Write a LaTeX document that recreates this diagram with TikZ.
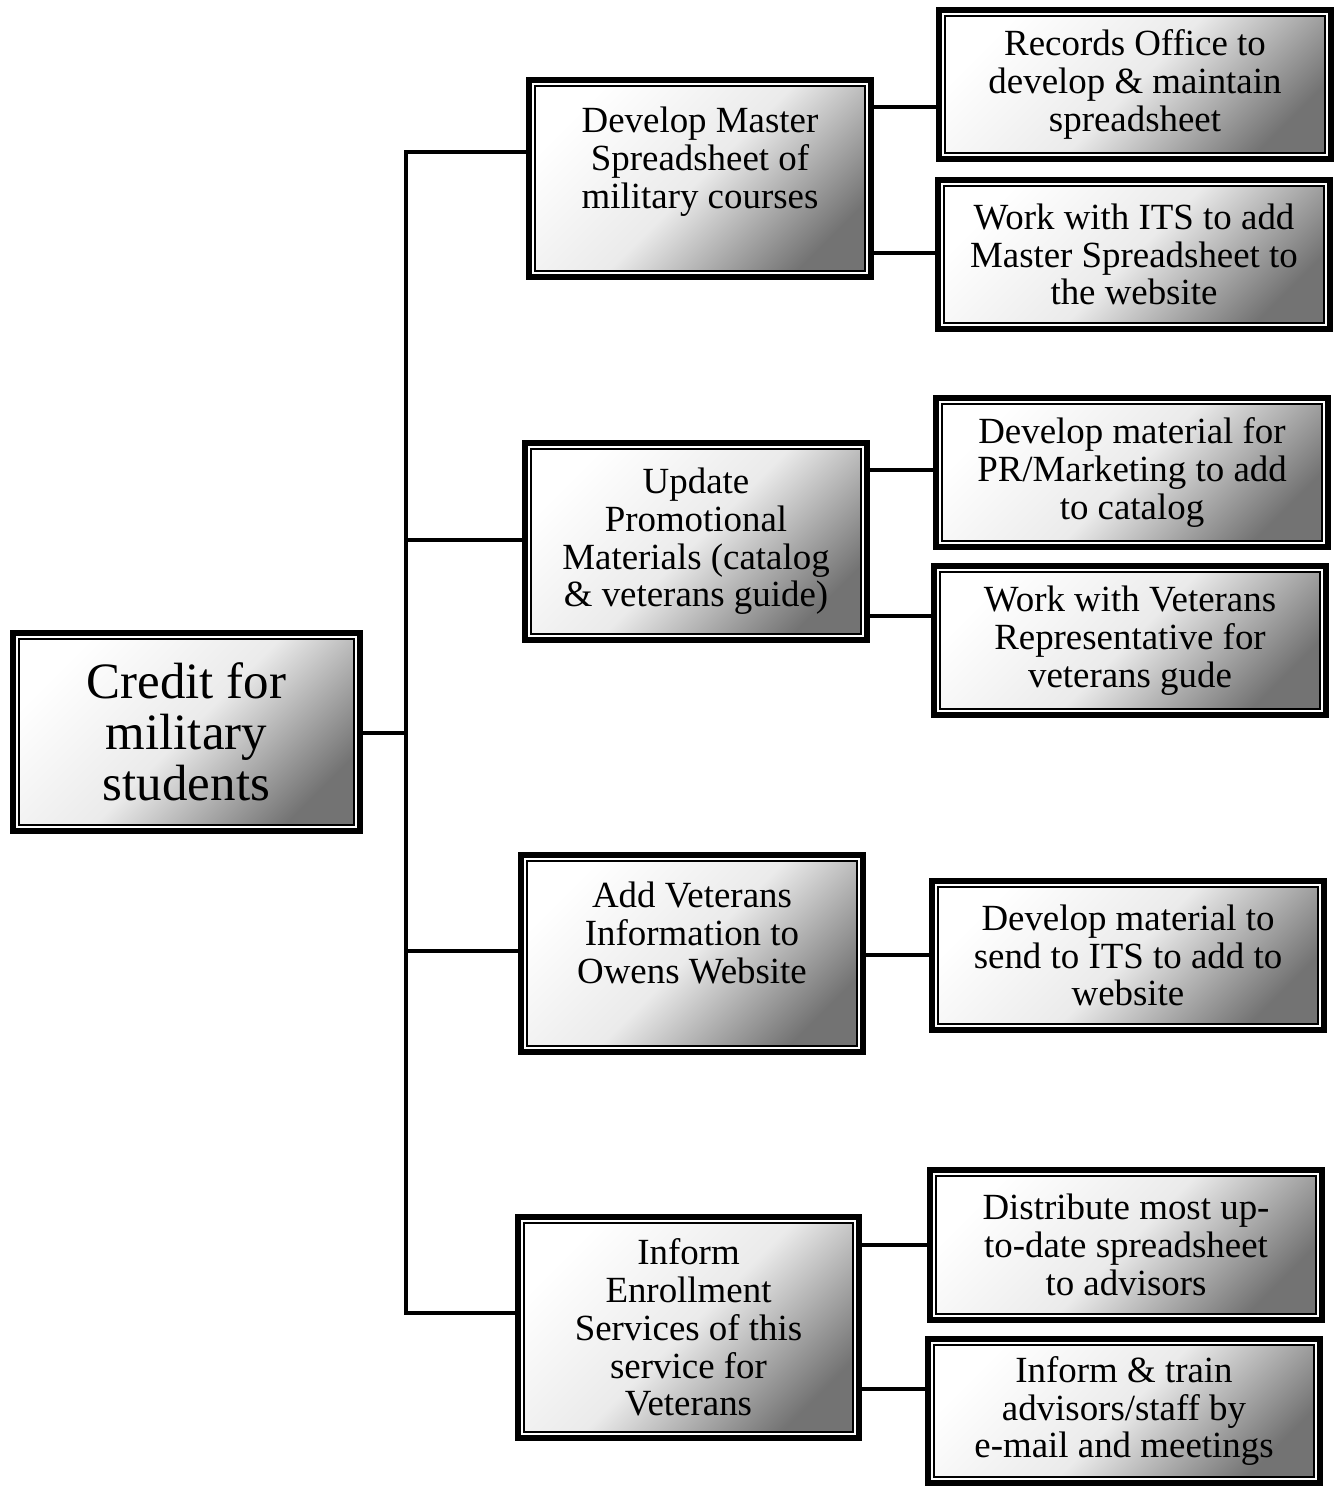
\documentclass[tikz,border=0pt]{standalone}
\usepackage{fontspec}
\setmainfont{Liberation Serif}
\begin{document}
\begin{tikzpicture}[x=0.02cm,y=-0.02cm,
  box/.style={draw=black, line width=3.4pt, top color=white, bottom color=black!55, middle color=black!8, shading angle=45,
    align=center, inner sep=0pt, font=\fontsize{21}{21.5}\selectfont,
    path picture={
      \draw[white,line width=1.2pt] ([shift={(2.3pt,2.3pt)}]path picture bounding box.south west) rectangle ([shift={(-2.3pt,-2.3pt)}]path picture bounding box.north east);
      \draw[black,line width=0.9pt] ([shift={(3.4pt,3.4pt)}]path picture bounding box.south west) rectangle ([shift={(-3.4pt,-3.4pt)}]path picture bounding box.north east);
    }},
  lvone/.style={box, minimum width=6.84cm, minimum height=3.94cm},
  lvtwo/.style={box, minimum width=7.84cm, minimum height=2.98cm},
  conn/.style={draw=black, line width=2.3pt}]
\useasboundingbox (0,0) rectangle (1341,1489);

\node[box, minimum width=6.94cm, minimum height=3.96cm, font=\fontsize{29}{29}\selectfont] (root) at (186.5,732) {Credit for\\military\\students};

\node[lvone] (A) at (700,178.5) {Develop Master\\Spreadsheet of\\military courses\\[2pt] \mbox{}};
\node[lvone] (B) at (696,541.5) {Update\\Promotional\\Materials (catalog\\\& veterans guide)};
\node[lvone] (C) at (692,953.5) {Add Veterans\\Information to\\Owens Website\\[2pt] \mbox{}};
\node[lvone, minimum width=6.82cm, minimum height=4.42cm] (D) at (688.5,1327.5) {Inform\\Enrollment\\Services of this\\service for\\Veterans};

\node[lvtwo] (A1) at (1135,84.5) {Records Office to\\develop \& maintain\\spreadsheet};
\node[lvtwo] (A2) at (1134,254.5) {Work with ITS to add\\Master Spreadsheet to\\the website};
\node[lvtwo] (B1) at (1132,472.5) {Develop material for\\PR/Marketing to add\\to catalog};
\node[lvtwo] (B2) at (1130,640.5) {Work with Veterans\\Representative for\\veterans gude};
\node[lvtwo] (C1) at (1128,955.5) {Develop material to\\send to ITS to add to\\website};
\node[lvtwo, minimum height=3.0cm] (D1) at (1126,1245) {Distribute most up-\\to-date spreadsheet\\to advisors};
\node[lvtwo, minimum height=2.88cm] (D2) at (1124,1411) {Inform \& train\\advisors/staff by\\e-mail and meetings};

% trunk
\coordinate (ta) at (406,152);
\coordinate (tb) at (406,540);
\coordinate (tr) at (406,733);
\coordinate (tc) at (406,951);
\coordinate (td) at (406,1313);
\draw[conn] (ta -| A.west) -- (ta) -- (td) -- (td -| D.west);
\draw[conn] (tb) -- (tb -| B.west);
\draw[conn] (tc) -- (tc -| C.west);
\draw[conn] (tr -| root.east) -- (tr);

% second level
\coordinate (a1) at (900,107);
\coordinate (a2) at (900,253);
\coordinate (b1) at (900,470);
\coordinate (b2) at (900,616);
\coordinate (c1) at (900,955);
\coordinate (d1) at (900,1245);
\coordinate (d2) at (900,1389);
\draw[conn] (a1 -| A.east) -- (a1 -| A1.west);
\draw[conn] (a2 -| A.east) -- (a2 -| A2.west);
\draw[conn] (b1 -| B.east) -- (b1 -| B1.west);
\draw[conn] (b2 -| B.east) -- (b2 -| B2.west);
\draw[conn] (c1 -| C.east) -- (c1 -| C1.west);
\draw[conn] (d1 -| D.east) -- (d1 -| D1.west);
\draw[conn] (d2 -| D.east) -- (d2 -| D2.west);
\end{tikzpicture}
\end{document}
